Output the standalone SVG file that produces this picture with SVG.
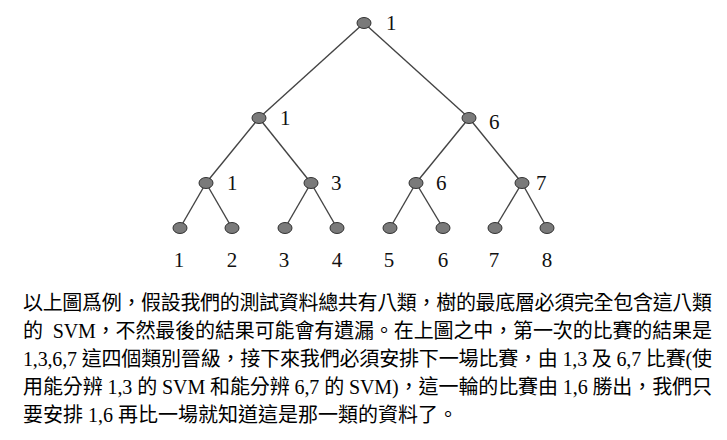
<svg xmlns="http://www.w3.org/2000/svg" width="727" height="440" viewBox="0 0 727 440">
<style>
.e{stroke:#444;stroke-width:1.4;fill:none}
.n{fill:#7a7a7a;stroke:#333;stroke-width:1}
.l{font-family:"Liberation Serif","Times New Roman",serif;font-size:21px;fill:#111}
.t{font-family:"Liberation Serif","Noto Sans CJK TC",serif;font-size:20px;fill:#000}
</style>
<rect width="727" height="440" fill="#fff"/>
<g id="connectors">
<line class="e" x1="364" y1="23" x2="259" y2="118"/>
<line class="e" x1="364" y1="23" x2="469" y2="118"/>
<line class="e" x1="259" y1="118" x2="206" y2="183"/>
<line class="e" x1="259" y1="118" x2="311" y2="183"/>
<line class="e" x1="469" y1="118" x2="416" y2="183"/>
<line class="e" x1="469" y1="118" x2="522" y2="183"/>
<line class="e" x1="206" y1="183" x2="180" y2="228"/>
<line class="e" x1="206" y1="183" x2="232" y2="228"/>
<line class="e" x1="311" y1="183" x2="285" y2="228"/>
<line class="e" x1="311" y1="183" x2="337" y2="228"/>
<line class="e" x1="416" y1="183" x2="390" y2="228"/>
<line class="e" x1="416" y1="183" x2="443" y2="228"/>
<line class="e" x1="522" y1="183" x2="495" y2="228"/>
<line class="e" x1="522" y1="183" x2="547" y2="228"/>
</g>
<g id="root"><ellipse class="n" cx="364" cy="23" rx="7" ry="5.5"/><text class="l" x="386" y="30">1</text></g>
<g id="n2a"><ellipse class="n" cx="259" cy="118" rx="7" ry="5.5"/><text class="l" x="280" y="125">1</text></g>
<g id="n2b"><ellipse class="n" cx="469" cy="118" rx="7" ry="5.5"/><text class="l" x="489" y="129">6</text></g>
<g id="n3a"><ellipse class="n" cx="206" cy="183" rx="7" ry="5.5"/><text class="l" x="227" y="190">1</text></g>
<g id="n3b"><ellipse class="n" cx="311" cy="183" rx="7" ry="5.5"/><text class="l" x="331" y="190">3</text></g>
<g id="n3c"><ellipse class="n" cx="416" cy="183" rx="7" ry="5.5"/><text class="l" x="436" y="190">6</text></g>
<g id="n3d"><ellipse class="n" cx="522" cy="183" rx="7" ry="5.5"/><text class="l" x="536" y="190">7</text></g>
<g id="leaf1"><ellipse class="n" cx="180" cy="228" rx="7" ry="5.5"/><text class="l" x="179" y="267" text-anchor="middle">1</text></g>
<g id="leaf2"><ellipse class="n" cx="232" cy="228" rx="7" ry="5.5"/><text class="l" x="232" y="267" text-anchor="middle">2</text></g>
<g id="leaf3"><ellipse class="n" cx="285" cy="228" rx="7" ry="5.5"/><text class="l" x="284" y="267" text-anchor="middle">3</text></g>
<g id="leaf4"><ellipse class="n" cx="337" cy="228" rx="7" ry="5.5"/><text class="l" x="337" y="267" text-anchor="middle">4</text></g>
<g id="leaf5"><ellipse class="n" cx="390" cy="228" rx="7" ry="5.5"/><text class="l" x="389" y="267" text-anchor="middle">5</text></g>
<g id="leaf6"><ellipse class="n" cx="443" cy="228" rx="7" ry="5.5"/><text class="l" x="443" y="267" text-anchor="middle">6</text></g>
<g id="leaf7"><ellipse class="n" cx="495" cy="228" rx="7" ry="5.5"/><text class="l" x="494" y="267" text-anchor="middle">7</text></g>
<g id="leaf8"><ellipse class="n" cx="547" cy="228" rx="7" ry="5.5"/><text class="l" x="547" y="267" text-anchor="middle">8</text></g>
<g id="paragraph">
<text class="t" x="23" y="310" textLength="689" lengthAdjust="spacing">以上圖爲例，假設我們的測試資料總共有八類，樹的最底層必須完全包含這八類</text>
<text class="t" x="23" y="338" textLength="689" lengthAdjust="spacing" xml:space="preserve">的  SVM，不然最後的結果可能會有遺漏。在上圖之中，第一次的比賽的結果是</text>
<text class="t" x="23" y="366" textLength="689" lengthAdjust="spacing">1,3,6,7 這四個類別晉級，接下來我們必須安排下一場比賽，由 1,3 及 6,7 比賽(使</text>
<text class="t" x="23" y="394" textLength="689" lengthAdjust="spacing">用能分辨 1,3 的 SVM 和能分辨 6,7 的 SVM)，這一輪的比賽由 1,6 勝出，我們只</text>
<text class="t" x="23" y="422">要安排 1,6 再比一場就知道這是那一類的資料了。</text>
</g>
</svg>
